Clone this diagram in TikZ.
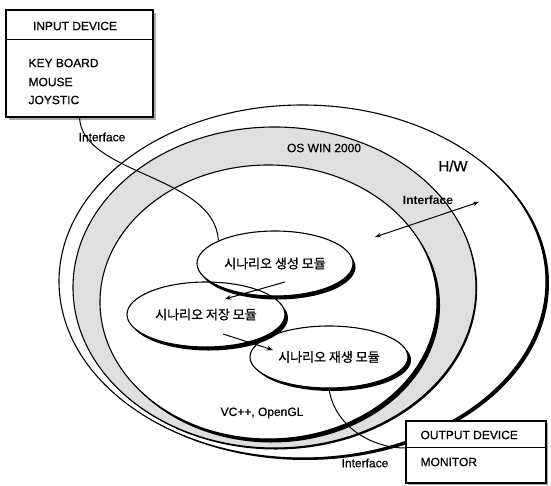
\documentclass[tikz,border=0pt]{standalone}
\usepackage{fontspec}
\setmainfont{Liberation Sans}
\newfontfamily\lblfont{Liberation Sans}[FakeBold=0.6]
\newfontfamily\krfont{Noto Sans CJK KR}[FakeBold=0.8]
\usetikzlibrary{arrows.meta,shapes.geometric,calc,shadows}

% crescent-shaped shadow on the lower right of an ellipse
% #1 cx, #2 cy, #3 rx, #4 ry, #5 dx, #6 dy
\newcommand\shadowcres[6]{%
  \pgfmathsetmacro\crphi{atan2((#6)/(#4),(#5)/(#3))}%
  \pgfmathsetmacro\cra{\crphi-90}%
  \pgfmathsetmacro\crb{\crphi+90}%
  \fill ($(#1,#2)+(#5,#6)+(\cra:#3 and #4)$)
    arc[start angle=\cra,end angle=\crb,x radius=#3,y radius=#4]
    -- ($(#1,#2)+(\crb:#3 and #4)$)
    arc[start angle=\crb,end angle=\cra,x radius=#3,y radius=#4] -- cycle;}

\tikzset{
  lbl/.style={font=\lblfont\fontsize{12}{14}\selectfont, inner sep=0pt},
  module/.style={ellipse, draw, line width=1.1pt, inner sep=0pt,
    font=\krfont\fontsize{13}{15}\selectfont},
  devbox/.style={draw, fill=white, line width=1.1pt, inner sep=0pt},
  arr/.style={-{Stealth[length=6pt,width=4.5pt]}, line width=1pt},
  darr/.style={{Stealth[length=6pt,width=4.5pt]}-{Stealth[length=6pt,width=4.5pt]}, line width=1pt},
  conn/.style={line width=1pt}
}

\begin{document}
\begin{tikzpicture}[x=1pt,y=-1pt,line width=1.1pt]
\useasboundingbox (0,0) rectangle (551,486);
\fill[white] (0,0) rectangle (551,486);

% big ellipses: H/W, OS, application
\filldraw[fill=white] (302.5,281.5) ellipse [x radius=243.5, y radius=176.5];
\shadowcres{302.5}{281.5}{243.5}{176.5}{3}{2}
\filldraw[fill=gray!25] (274.5,287.5) ellipse [x radius=201.5, y radius=160.5];
\shadowcres{274.5}{287.5}{201.5}{160.5}{1.2}{1.5}
\filldraw[fill=white] (268.5,302) ellipse [x radius=168.5, y radius=137];
\shadowcres{268.5}{302}{168.5}{137}{3}{3.5}

% device boxes
\node[devbox, minimum width=147pt, minimum height=107pt,
  drop shadow={opacity=1, fill=gray!65, shadow xshift=3pt, shadow yshift=-3pt}]
  (inbox) at (79.5,63.5) {};
\draw ([yshift=-30pt]inbox.north west) -- ([yshift=-30pt]inbox.north east);
\node[lbl] (intitle) at (75,26) {INPUT DEVICE};
\node[lbl, anchor=west] (kb) at (28,63) {KEY BOARD};
\node[lbl, anchor=west] (ms) at (28,82) {MOUSE};
\node[lbl, anchor=west] (js) at (28,100) {JOYSTIC};

\node[devbox, minimum width=140pt, minimum height=62pt,
  drop shadow={opacity=1, fill=gray!65, shadow xshift=2pt, shadow yshift=-2pt}]
  (outbox) at (476,452) {};
\draw ([yshift=-27pt]outbox.north west) -- ([yshift=-27pt]outbox.north east);
\node[lbl, anchor=west] (outtitle) at (420,435) {OUTPUT DEVICE};
\node[lbl, anchor=west] (mon) at (420,462) {MONITOR};

% module shadows
\shadowcres{275}{263.5}{78}{32.5}{2.5}{3.5}
\shadowcres{206}{314.5}{79}{32.5}{3}{3.5}
\shadowcres{329}{357}{79}{31}{3}{3}

% modules
\node[module, minimum width=156pt, minimum height=65pt] (gen) at (275,263.5) {시나리오 생성 모듈};
\node[module, minimum width=158pt, minimum height=65pt] (store) at (206,314.5) {시나리오 저장 모듈};
\node[module, minimum width=158pt, minimum height=62pt] (play) at (329,357) {시나리오 재생 모듈};

% interface curves
\draw[conn] (inbox.south) .. controls (82,175) and (215,175) .. (gen.158);
\draw[conn] (play.south) .. controls (334,425) and (370,448) .. ([yshift=4pt]outbox.west);

% arrows between modules
\coordinate (g1) at (285,282);
\coordinate (s1) at (225,299);
\coordinate (s2) at (223,334);
\coordinate (p1) at (273,350);
\draw[arr] (g1) -- (s1);
\draw[arr] (s2) -- (p1);

% interface double arrow
\coordinate (ia) at (375,237);
\coordinate (ib) at (479,202);
\draw[darr] (ia) -- (ib);

% labels
\node[lbl] (oslbl) at (324,148) {OS WIN 2000};
\node[lbl, font=\lblfont\fontsize{15}{17}\selectfont] (hwlbl) at (453,166) {H/W};
\node[lbl, font=\bfseries\fontsize{12}{14}\selectfont] (iflbl) at (428,200) {Interface};
\node[lbl] (vclbl) at (262,413) {VC++, OpenGL};
\node[lbl] (if1) at (102,137) {Interface};
\node[lbl] (if2) at (365,463) {Interface};
\end{tikzpicture}
\end{document}
